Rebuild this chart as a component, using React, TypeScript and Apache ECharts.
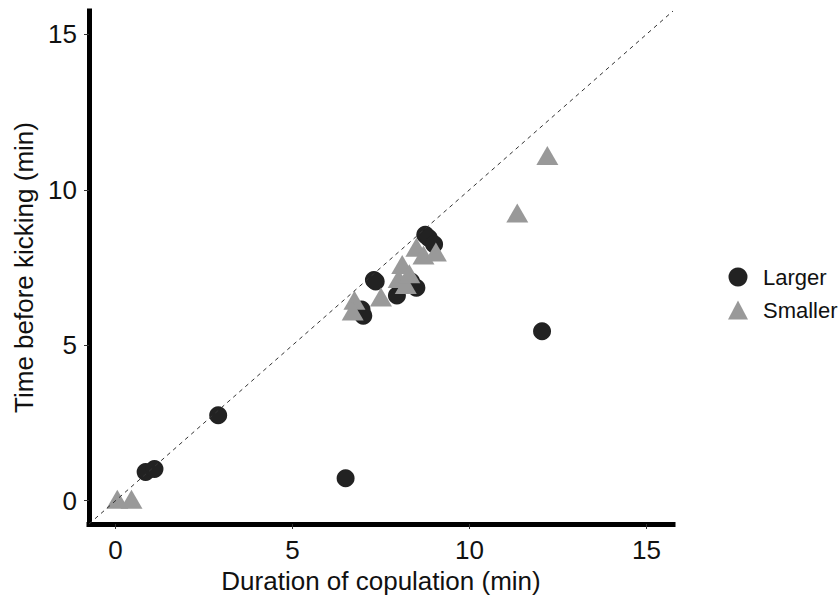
import React, { useEffect, useRef } from "react";
import * as echarts from "echarts";

const largerPoints: [number, number][] = [
  [0.85, 0.92], [1.1, 1.02], [2.9, 2.75], [6.5, 0.72], [12.05, 5.45],
  [6.95, 6.15], [7.0, 5.95], [7.3, 7.1], [7.35, 7.05], [7.95, 6.6],
  [8.35, 7.05], [8.5, 6.85], [8.75, 8.55], [8.85, 8.45], [9.0, 8.25],
];

const smallerPoints: [number, number][] = [
  [0.05, 0.05], [0.45, 0.05], [6.75, 6.45], [6.7, 6.1], [7.5, 6.55],
  [8.0, 7.15], [8.1, 7.6], [8.2, 6.95], [8.3, 7.3], [8.5, 8.15],
  [8.7, 7.9], [9.05, 8.0], [11.35, 9.25], [12.2, 11.1],
];

const identityLine: [number, number][] = [[-0.75, -0.75], [15.75, 15.75]];

const tickValues = [0, 5, 10, 15];
const seriesNames = ["Larger", "Smaller"];
const xTitle = "Duration of copulation (min)";
const yTitle = "Time before kicking (min)";

export default function App() {
  const ref = useRef<HTMLDivElement>(null);
  useEffect(() => {
    if (!ref.current) return;
    const chart = echarts.init(ref.current, undefined, { renderer: "svg" });
    const font = "Liberation Sans, Arial, sans-serif";
    const axisCommon = {
      type: "value" as const,
      min: -0.75,
      max: 15.75,
      interval: 5,
      splitLine: { show: false },
      axisLine: { show: true, onZero: false, lineStyle: { color: "#000", width: 5, cap: "square" } },
      axisTick: { show: true, length: 5, customValues: tickValues, lineStyle: { color: "#333", width: 1 } },
      nameLocation: "middle" as const,
      nameTextStyle: { fontFamily: font, fontSize: 26, color: "#111" },
    };
    chart.setOption({
      animation: false,
      backgroundColor: "#fff",
      grid: { left: 89, right: 167, top: 11, bottom: 78 },
      xAxis: {
        ...axisCommon,
        name: xTitle,
        nameGap: 41,
        axisLabel: {
          fontFamily: font, fontSize: 26, color: "#111", margin: 13,
          customValues: tickValues,
        },
      },
      yAxis: {
        ...axisCommon,
        name: yTitle,
        nameGap: 51,
        axisLabel: {
          fontFamily: font, fontSize: 26, color: "#111", margin: 12,
          customValues: tickValues,
        },
      },
      legend: {
        orient: "vertical",
        left: 723,
        top: 261,
        itemWidth: 20,
        itemHeight: 19,
        itemGap: 11,
        textStyle: { fontFamily: font, fontSize: 22, color: "#111", padding: [0, 0, 0, 10] },
        data: [
          { name: seriesNames[0], icon: "circle" },
          { name: seriesNames[1], icon: "triangle" },
        ],
      },
      series: [
        {
          name: seriesNames[0],
          type: "scatter",
          data: largerPoints,
          symbol: "circle",
          symbolSize: 18,
          itemStyle: { color: "#222", opacity: 1 },
          z: 2,
        },
        {
          name: seriesNames[1],
          type: "scatter",
          data: smallerPoints,
          symbol: "triangle",
          symbolSize: [22, 19],
          itemStyle: { color: "#999", opacity: 1 },
          z: 2,
        },
        {
          name: "identity",
          type: "line",
          data: identityLine,
          showSymbol: false,
          symbol: "none",
          silent: true,
          lineStyle: { color: "#333", width: 1, type: [4, 4] },
          z: 3,
        },
      ],
    });
    return () => chart.dispose();
  }, []);
  return (
    <div
      ref={ref}
      style={{ position: "absolute", left: 0, top: 0, width: 840, height: 602 }}
    />
  );
}
